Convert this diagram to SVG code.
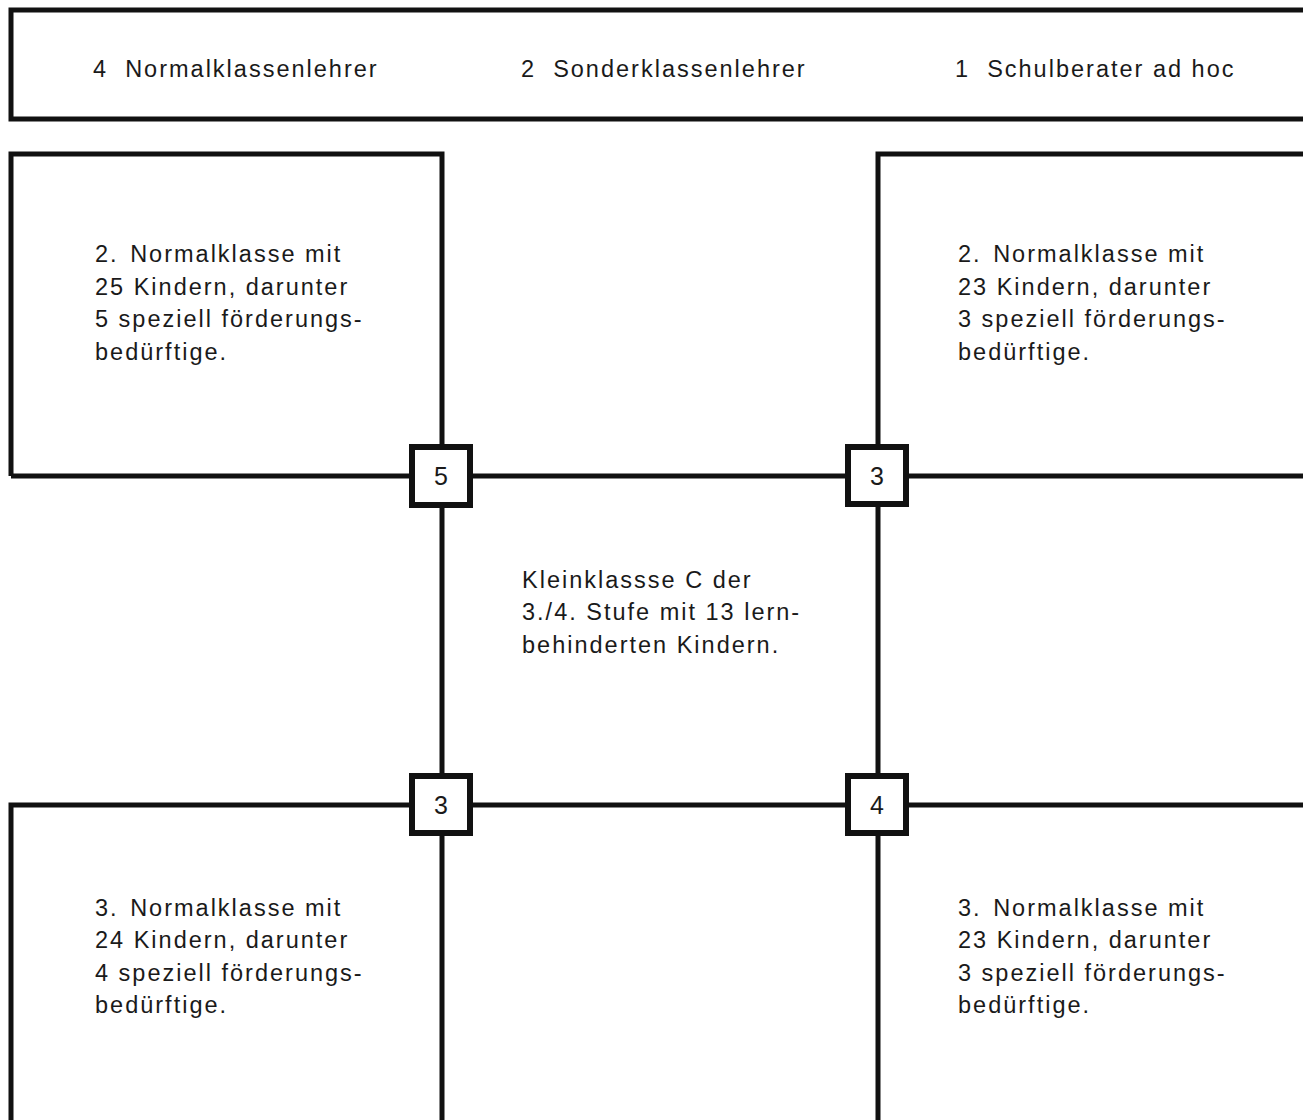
<svg xmlns="http://www.w3.org/2000/svg" width="1303" height="1120" viewBox="0 0 1303 1120">
<style>
.box{fill:none;stroke:#111;stroke-width:5}
.ln{stroke:#111;stroke-width:5;fill:none}
.sq{fill:#fff;stroke:#111;stroke-width:6}
text{font-family:"Liberation Sans",Arial,sans-serif;font-size:23.5px;fill:#1a1a1a;letter-spacing:2px}
.n{text-anchor:middle;letter-spacing:0;font-size:25px}
</style>
<rect width="1303" height="1120" fill="#fff"/>
<g id="staff">
<rect class="box" x="11" y="10" width="1310" height="109"/>
<text x="93" y="77" xml:space="preserve">4  Normalklassenlehrer</text>
<text x="521" y="77" xml:space="preserve">2  Sonderklassenlehrer</text>
<text x="955" y="77" xml:space="preserve">1  Schulberater ad hoc</text>
</g>
<g id="connectors">
<line class="ln" x1="442" y1="476" x2="878" y2="476"/>
<line class="ln" x1="442" y1="474" x2="442" y2="806"/>
<line class="ln" x1="878" y1="474" x2="878" y2="806"/>
<line class="ln" x1="442" y1="805" x2="878" y2="805"/>
</g>
<g id="class-tl">
<polyline class="box" points="11,476 11,154 442,154 442,476 11,476"/>
<text x="95" y="262">2. <tspan dx="3">Normalklasse mit</tspan></text>
<text x="95" y="295">25 Kindern, darunter</text>
<text x="95" y="327">5 speziell förderungs-</text>
<text x="95" y="360">bedürftige.</text>
</g>
<g id="class-tr">
<polyline class="box" points="1310,154 878,154 878,476 1310,476"/>
<text x="958" y="262">2. <tspan dx="3">Normalklasse mit</tspan></text>
<text x="958" y="295">23 Kindern, darunter</text>
<text x="958" y="327">3 speziell förderungs-</text>
<text x="958" y="360">bedürftige.</text>
</g>
<g id="class-c">
<text x="522" y="588">Kleinklassse C der</text>
<text x="522" y="620">3./4. Stufe mit 13 lern-</text>
<text x="522" y="653">behinderten Kindern.</text>
</g>
<g id="class-bl">
<polyline class="box" points="11,1130 11,805 442,805 442,1130"/>
<text x="95" y="916">3. <tspan dx="3">Normalklasse mit</tspan></text>
<text x="95" y="948">24 Kindern, darunter</text>
<text x="95" y="981">4 speziell förderungs-</text>
<text x="95" y="1013">bedürftige.</text>
</g>
<g id="class-br">
<polyline class="box" points="1310,805 878,805 878,1130"/>
<text x="958" y="916">3. <tspan dx="3">Normalklasse mit</tspan></text>
<text x="958" y="948">23 Kindern, darunter</text>
<text x="958" y="981">3 speziell förderungs-</text>
<text x="958" y="1013">bedürftige.</text>
</g>
<g id="link-tl">
<rect class="sq" x="412" y="447" width="58" height="58"/>
<text class="n" x="441" y="485">5</text>
</g>
<g id="link-tr">
<rect class="sq" x="848" y="447" width="58" height="57"/>
<text class="n" x="877" y="485">3</text>
</g>
<g id="link-bl">
<rect class="sq" x="412" y="776" width="58" height="57"/>
<text class="n" x="441" y="814">3</text>
</g>
<g id="link-br">
<rect class="sq" x="848" y="776" width="58" height="57"/>
<text class="n" x="877" y="814">4</text>
</g>
</svg>
